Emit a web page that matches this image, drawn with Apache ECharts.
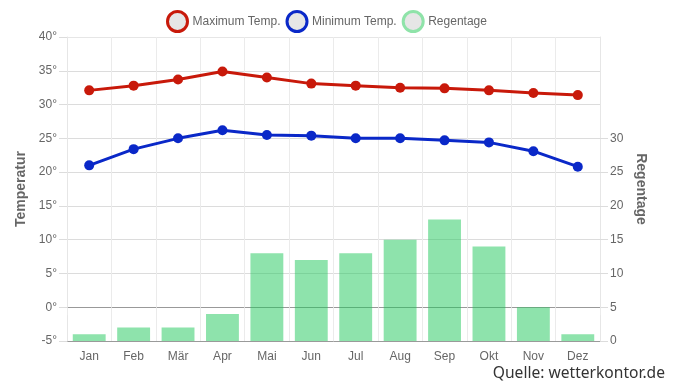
<!DOCTYPE html>
<html>
<head>
<meta charset="utf-8">
<script src="https://cdn.jsdelivr.net/npm/echarts@6/dist/echarts.min.js"></script>
<style>html,body{margin:0;padding:0;background:#fff;}#c{width:676px;height:383px;}</style>
</head>
<body>
<div id="c"></div>
<script>
const months = ['Jan','Feb','Mär','Apr','Mai','Jun','Jul','Aug','Sep','Okt','Nov','Dez'];
const maxTemp = [32.1, 32.8, 33.7, 34.9, 34.0, 33.1, 32.8, 32.5, 32.4, 32.1, 31.7, 31.4];
const minTemp = [21.0, 23.4, 25.0, 26.2, 25.5, 25.4, 25.0, 25.0, 24.7, 24.4, 23.1, 20.8];
const rainDays = [1, 2, 2, 4, 13, 12, 13, 15, 18, 14, 5, 1];
const rightTicks = [0, 5, 10, 15, 20, 25, 30];

const FONT = '"Liberation Sans", Arial, Helvetica, sans-serif';
const chart = echarts.init(document.getElementById('c'), null, {renderer: 'canvas'});
const grid = ['#9a9a9a', '#aaaaaa', '#dcdcdc', '#dcdcdc', '#dcdcdc', '#dcdcdc', '#dcdcdc', '#dcdcdc', '#dcdcdc', '#e6e6e6'];
chart.setOption({
  animation: false,
  textStyle: {fontFamily: FONT},
  legend: {
    top: 5, left: 161, itemWidth: 20, itemHeight: 20, itemGap: 5,
    icon: 'circle',
    textStyle: {color: '#666', fontSize: 12, fontFamily: FONT},
    data: [
      {name: 'Maximum Temp.', itemStyle: {color: '#e6e6e6', borderColor: '#c8190a', borderWidth: 3}},
      {name: 'Minimum Temp.', itemStyle: {color: '#e6e6e6', borderColor: '#0a28c8', borderWidth: 3}},
      {name: 'Regentage', itemStyle: {color: '#e6e6e6', borderColor: '#8fe3a9', borderWidth: 3}}
    ]
  },
  grid: {left: 67, right: 76, top: 37, bottom: 42},
  xAxis: {
    type: 'category', data: months, boundaryGap: true,
    axisLine: {show: true, lineStyle: {color: '#999', width: 1}},
    axisTick: {show: true, length: 8, lineStyle: {color: '#ebebeb'}},
    axisLabel: {color: '#666', fontSize: 12, margin: 10},
    splitLine: {show: true, lineStyle: {color: '#ebebeb'}}
  },
  yAxis: [
    {
      type: 'value', min: -5, max: 40, interval: 5, position: 'left',
      name: 'Temperatur', nameLocation: 'middle', nameGap: 37,
      nameTextStyle: {color: '#666', fontSize: 14, fontWeight: 'bold'},
      axisLine: {show: true, lineStyle: {color: '#e6e6e6'}},
      axisTick: {show: true, length: 8, lineStyle: {color: '#dcdcdc'}},
      axisLabel: {color: '#666', fontSize: 12, margin: 10, formatter: '{value}°'},
      splitLine: {show: true, lineStyle: {color: grid}}
    },
    {
      type: 'value', min: 0, max: 45, interval: 5, position: 'right',
      name: 'Regentage', nameLocation: 'middle', nameGap: 33, nameRotate: -90,
      nameTextStyle: {color: '#666', fontSize: 14, fontWeight: 'bold'},
      axisLine: {show: true, lineStyle: {color: '#e6e6e6'}},
      axisTick: {show: true, length: 8, customValues: rightTicks, lineStyle: {color: '#dcdcdc'}},
      axisLabel: {color: '#666', fontSize: 12, margin: 10, customValues: rightTicks},
      splitLine: {show: false}
    }
  ],
  series: [
    {
      name: 'Maximum Temp.', type: 'line', data: maxTemp, yAxisIndex: 0,
      symbol: 'circle', symbolSize: 10, z: 5,
      lineStyle: {color: '#c8190a', width: 3},
      itemStyle: {color: '#c8190a'}
    },
    {
      name: 'Minimum Temp.', type: 'line', data: minTemp, yAxisIndex: 0,
      symbol: 'circle', symbolSize: 10, z: 5,
      lineStyle: {color: '#0a28c8', width: 3},
      itemStyle: {color: '#0a28c8'}
    },
    {
      name: 'Regentage', type: 'bar', data: rainDays, yAxisIndex: 1,
      barWidth: '74%',
      itemStyle: {color: 'rgba(30,200,90,0.5)'}
    }
  ],
  graphic: [{
    type: 'text', right: 11, bottom: 1,
    style: {text: 'Quelle: wetterkontor.de', fontSize: 15.6, fontFamily: '"Noto Sans", sans-serif', fill: '#333'}
  }]
});
</script>
</body>
</html>
